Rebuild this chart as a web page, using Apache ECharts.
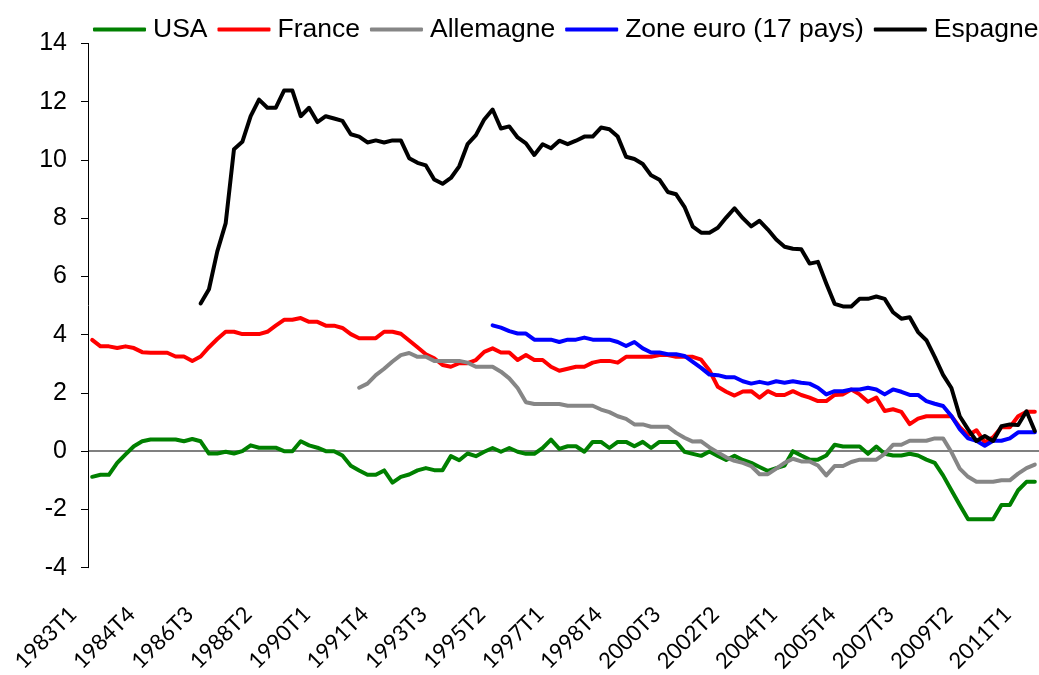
<!DOCTYPE html>
<html>
<head>
<meta charset="utf-8">
<script src="https://cdn.jsdelivr.net/npm/echarts@6/dist/echarts.min.js"></script>
<style>
html,body{margin:0;padding:0;background:#fff;}
#chart{width:1039px;height:675px;}
</style>
</head>
<body>
<div id="chart"></div>
<script>
// Quarterly categories 1983T1 .. 2011T2
const firstYear = 1983, lastYear = 2011, lastQuarter = 2;
const categories = [];
for (let y = firstYear; y <= lastYear; y++) {
  for (let q = 1; q <= 4; q++) {
    if (y === lastYear && q > lastQuarter) break;
    categories.push(y + 'T' + q);
  }
}

const seriesNames = ['USA', 'France', 'Allemagne', 'Zone euro (17 pays)', 'Espagne'];

const usa = [-0.88,-0.81,-0.81,-0.4,-0.11,0.17,0.34,0.4,0.4,0.4,0.4,0.34,0.42,0.34,-0.08,-0.08,-0.02,-0.08,0.0,0.2,
0.12,0.12,0.12,0.0,0.0,0.34,0.2,0.12,0.0,0.0,-0.15,-0.5,-0.66,-0.81,-0.81,-0.66,-1.08,-0.88,-0.8,-0.66,
-0.58,-0.65,-0.65,-0.17,-0.31,-0.08,-0.17,-0.02,0.11,-0.02,0.11,-0.02,-0.09,-0.09,0.11,0.4,0.08,0.17,0.17,-0.02,
0.32,0.32,0.11,0.32,0.32,0.17,0.32,0.11,0.32,0.32,0.32,-0.02,-0.09,-0.16,-0.01,-0.16,-0.3,-0.16,-0.3,-0.4,
-0.54,-0.68,-0.58,-0.49,0.0,-0.15,-0.29,-0.29,-0.15,0.22,0.16,0.16,0.16,-0.09,0.16,-0.09,-0.15,-0.15,-0.09,-0.15,
-0.29,-0.4,-0.83,-1.34,-1.85,-2.34,-2.34,-2.34,-2.34,-1.85,-1.85,-1.34,-1.05,-1.05];

const france = [3.82,3.6,3.6,3.54,3.6,3.54,3.4,3.38,3.38,3.38,3.25,3.25,3.1,3.25,3.57,3.85,4.1,4.1,4.02,4.02,
4.02,4.1,4.31,4.51,4.51,4.57,4.44,4.44,4.31,4.31,4.23,4.02,3.88,3.88,3.88,4.1,4.1,4.03,3.8,3.57,
3.33,3.19,2.96,2.9,3.02,3.02,3.13,3.41,3.53,3.39,3.39,3.13,3.3,3.13,3.13,2.9,2.76,2.83,2.9,2.9,
3.04,3.1,3.1,3.04,3.24,3.24,3.24,3.24,3.3,3.3,3.24,3.24,3.24,3.14,2.77,2.21,2.04,1.91,2.05,2.06,
1.84,2.06,1.93,1.93,2.06,1.93,1.84,1.72,1.72,1.93,1.95,2.12,1.95,1.7,1.84,1.38,1.44,1.35,0.93,1.12,
1.2,1.2,1.2,1.2,0.82,0.55,0.72,0.3,0.48,0.82,0.82,1.2,1.35,1.35];

const allemagne = [null,null,null,null,null,null,null,null,null,null,null,null,null,null,null,null,null,null,null,null,
null,null,null,null,null,null,null,null,null,null,null,null,2.18,2.32,2.61,2.83,3.08,3.3,3.37,3.24,
3.24,3.1,3.1,3.1,3.1,3.04,2.9,2.9,2.9,2.73,2.5,2.17,1.68,1.62,1.62,1.62,1.62,1.56,1.56,1.56,
1.56,1.43,1.34,1.2,1.11,0.92,0.92,0.84,0.84,0.84,0.63,0.46,0.33,0.34,0.13,-0.04,-0.21,-0.33,-0.4,-0.51,
-0.79,-0.79,-0.6,-0.4,-0.26,-0.35,-0.35,-0.49,-0.83,-0.51,-0.51,-0.37,-0.29,-0.29,-0.29,-0.09,0.22,0.22,0.36,0.36,
0.36,0.44,0.44,-0.03,-0.6,-0.88,-1.05,-1.05,-1.05,-1.0,-1.0,-0.77,-0.58,-0.46];

const zoneEuro = [null,null,null,null,null,null,null,null,null,null,null,null,null,null,null,null,null,null,null,null,
null,null,null,null,null,null,null,null,null,null,null,null,null,null,null,null,null,null,null,null,
null,null,null,null,null,null,null,null,4.32,4.24,4.12,4.04,4.04,3.83,3.83,3.83,3.75,3.83,3.83,3.9,
3.83,3.83,3.83,3.75,3.61,3.75,3.53,3.39,3.39,3.33,3.33,3.27,3.07,2.86,2.63,2.61,2.54,2.54,2.4,2.32,
2.38,2.32,2.4,2.35,2.4,2.35,2.32,2.18,1.95,2.06,2.06,2.12,2.12,2.18,2.12,1.95,2.12,2.04,1.93,1.93,
1.72,1.63,1.55,1.21,0.76,0.44,0.36,0.19,0.36,0.36,0.44,0.65,0.65,0.65];

const espagne = [null,null,null,null,null,null,null,null,null,null,null,null,null,5.07,5.56,6.86,7.82,10.37,10.62,11.5,
12.07,11.79,11.79,12.38,12.38,11.5,11.79,11.3,11.5,11.42,11.34,10.88,10.8,10.6,10.67,10.6,10.67,10.67,10.06,9.9,
9.81,9.33,9.18,9.38,9.78,10.54,10.85,11.39,11.73,11.08,11.15,10.77,10.57,10.17,10.54,10.4,10.66,10.54,10.66,10.8,
10.8,11.11,11.05,10.8,10.11,10.03,9.86,9.47,9.32,8.9,8.82,8.39,7.71,7.5,7.5,7.67,8.02,8.34,8.0,7.72,
7.91,7.61,7.27,7.02,6.95,6.93,6.44,6.5,5.76,5.06,4.97,4.97,5.23,5.23,5.31,5.23,4.77,4.55,4.6,4.09,
3.81,3.24,2.62,2.17,1.2,0.75,0.35,0.52,0.35,0.86,0.92,0.9,1.37,0.69];

const seriesData = [usa, france, allemagne, zoneEuro, espagne];
const colors = ['#008000', '#ff0000', '#868686', '#0000ff', '#000000'];

const yMin = -4, yMax = 14, yStep = 2;

// split line colours: only the zero line is visible
const splitColors = [];
for (let v = yMin; v <= yMax; v += yStep) splitColors.push(v === 0 ? '#808080' : 'rgba(0,0,0,0)');

const chart = echarts.init(document.getElementById('chart'), null, {renderer: 'canvas'});
const option = {
  animation: false,
  backgroundColor: '#ffffff',
  color: colors,
  legend: {
    left: 88,
    top: 11,
    width: 1000,
    itemWidth: 53,
    itemHeight: 4,
    itemGap: 10,
    icon: 'roundRect',
    textStyle: {fontFamily: 'Liberation Sans, Arial, sans-serif', fontSize: 26.5, color: '#000', padding: [0, 0, 0, 2]},
    data: seriesNames
  },
  grid: {left: 88, top: 43.4, width: 953, height: 529.2, containLabel: false},
  xAxis: {
    type: 'category',
    data: categories,
    boundaryGap: true,
    position: 'bottom',
    axisLine: {show: false, onZero: false},
    axisTick: {show: false},
    splitLine: {show: false},
    axisLabel: {
      interval: 6,
      rotate: 45,
      margin: 24,
      padding: [0, 27, 0, 0],
      fontFamily: 'Lato, Carlito, sans-serif',
      fontSize: 22,
      color: '#000'
    }
  },
  yAxis: {
    type: 'value',
    min: yMin, max: yMax, interval: yStep,
    axisLine: {show: true, lineStyle: {color: '#000', width: 1}},
    axisTick: {show: true, length: 7, lineStyle: {color: '#000', width: 1}},
    splitLine: {show: true, lineStyle: {color: splitColors, width: 2}},
    axisLabel: {
      margin: 21,
      fontFamily: 'Liberation Sans, Arial, sans-serif',
      fontSize: 25,
      color: '#000'
    }
  },
  series: seriesNames.map((name, k) => ({
    name: name,
    type: 'line',
    data: seriesData[k],
    symbol: 'none',
    connectNulls: false,
    lineStyle: {width: 4, color: colors[k], join: 'round', cap: 'round'},
    itemStyle: {color: colors[k]},
    z: 2 + k
  }))
};
chart.setOption(option);
</script>
</body>
</html>
